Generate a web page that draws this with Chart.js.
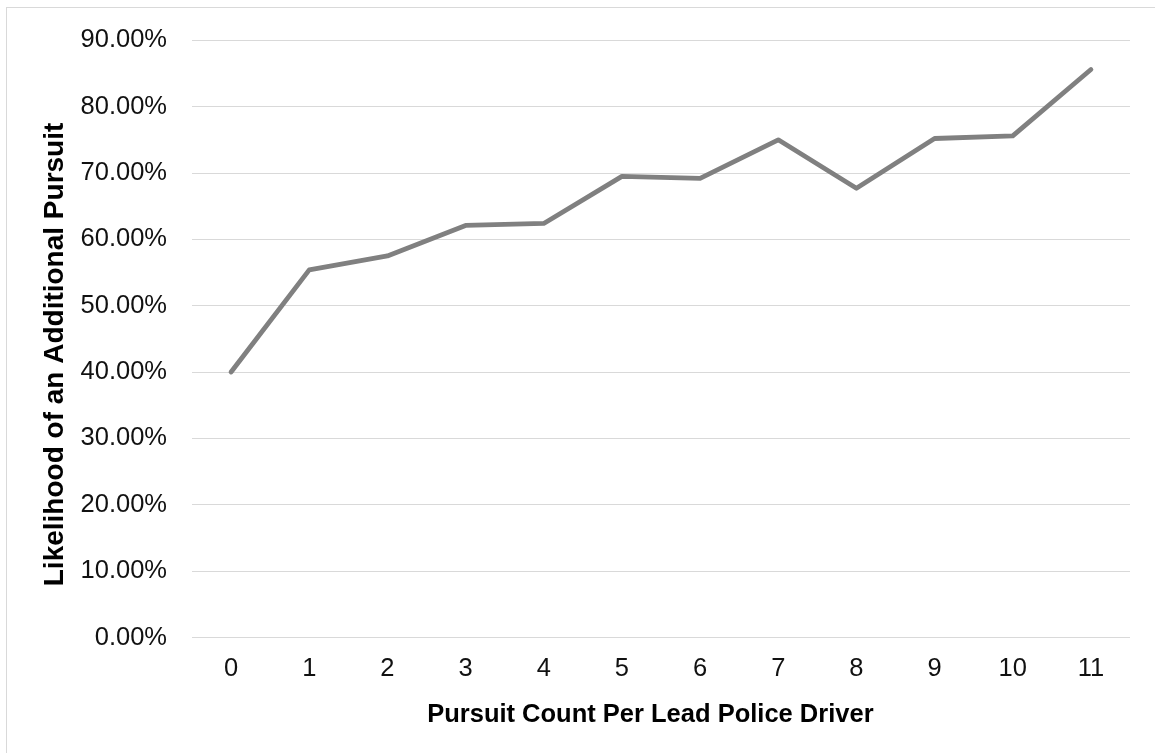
<!DOCTYPE html>
<html>
<head>
<meta charset="utf-8">
<script src="https://cdn.jsdelivr.net/npm/chart.js@4"></script>
<style>
  html, body { margin: 0; padding: 0; background: #fff; overflow: hidden; }
  #wrap { position: relative; width: 1155px; height: 753px; }
  #frame { position: absolute; left: 6px; top: 7px; width: 1200px; height: 800px;
           border-left: 1px solid #d9d9d9; border-top: 1px solid #d9d9d9; }
  #myChart { position: absolute; left: 0; top: 0; }
</style>
</head>
<body>
<div id="wrap">
  <div id="frame"></div>
  <canvas id="myChart" width="1155" height="753"></canvas>
</div>
<script>
var pursuitCounts = ['0', '1', '2', '3', '4', '5', '6', '7', '8', '9', '10', '11'];
var likelihood = [40.0, 55.4, 57.5, 62.1, 62.4, 69.5, 69.2, 75.0, 67.7, 75.2, 75.6, 85.6];
var yMin = 0, yMax = 90, yStep = 10;

var tickFont = { family: "'Liberation Sans', Arial, sans-serif", size: 25.5 };
var xTitleFont = { family: "'Liberation Sans', Arial, sans-serif", size: 25.5, weight: 'bold' };
var yTitleFont = { family: "'Liberation Sans', Arial, sans-serif", size: 28, weight: 'bold' };

var ctx = document.getElementById('myChart').getContext('2d');
var myChart = new Chart(ctx, {
    type: 'line',
    data: {
        labels: pursuitCounts,
        datasets: [{
            label: 'Likelihood',
            data: likelihood,
            borderColor: '#808080',
            borderWidth: 4.8,
            borderJoinStyle: 'round',
            borderCapStyle: 'round',
            pointRadius: 0,
            tension: 0,
            fill: false
        }]
    },
    options: {
        responsive: false,
        animation: false,
        events: [],
        layout: {
            padding: { top: 37, right: 25, bottom: 0, left: 0 }
        },
        plugins: {
            legend: { display: false },
            tooltip: { enabled: false }
        },
        scales: {
            x: {
                offset: true,
                grid: { display: false, drawTicks: false },
                border: { display: false },
                ticks: { color: '#111', font: tickFont, padding: 16, maxRotation: 0 },
                title: {
                    display: true,
                    text: 'Pursuit Count Per Lead Police Driver   ',
                    color: '#000',
                    font: xTitleFont,
                    padding: { top: 0, bottom: 23 }
                },
                afterFit: function (scale) { scale.height = 115.5; }
            },
            y: {
                min: yMin,
                max: yMax,
                grid: { color: '#d9d9d9', lineWidth: 1, drawTicks: false },
                border: { display: false },
                ticks: {
                    stepSize: yStep,
                    color: '#111',
                    font: tickFont,
                    padding: 25,
                    callback: function (v) { return v.toFixed(2) + '%'; }
                },
                title: {
                    display: true,
                    text: 'Likelihood of an Additional Pursuit    ',
                    color: '#000',
                    font: yTitleFont,
                    padding: { top: 38, bottom: 0 }
                },
                afterFit: function (scale) { scale.width = 192; }
            }
        }
    }
});
</script>
</body>
</html>
